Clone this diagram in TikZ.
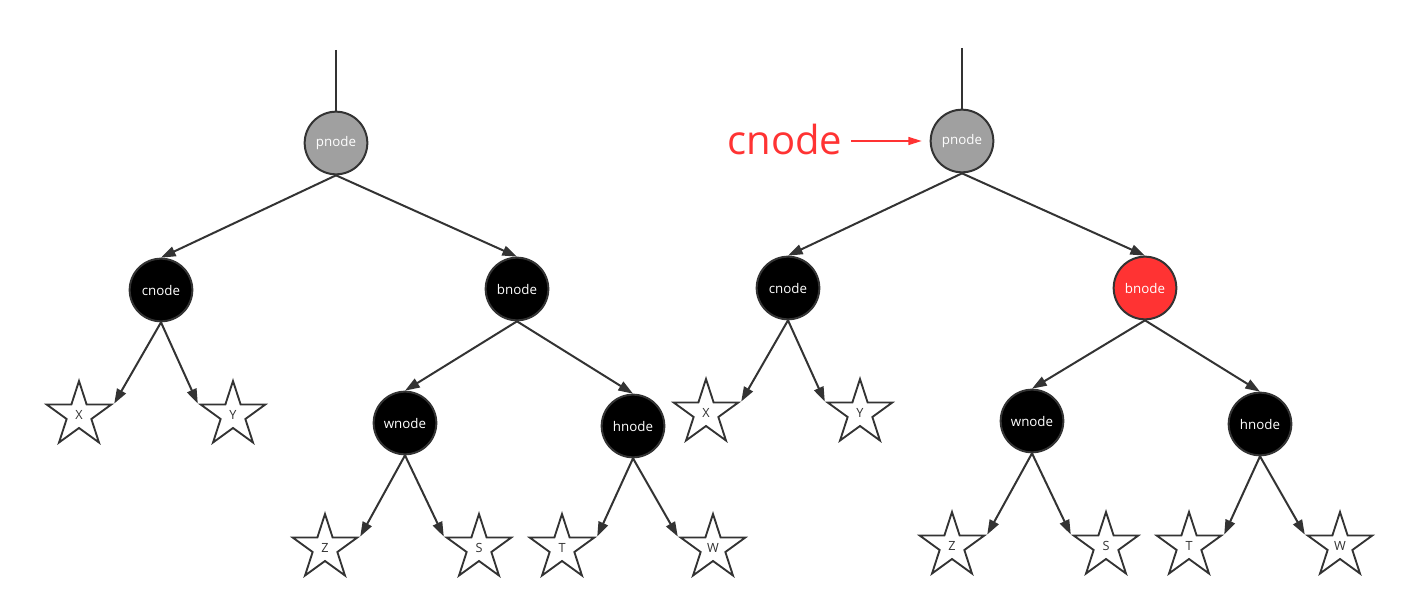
\documentclass[tikz,border=0pt]{standalone}
\usepackage{fontspec}
\setmainfont{Open Sans}
\usetikzlibrary{arrows.meta,shapes.geometric}
\definecolor{ink}{HTML}{333333}
\definecolor{gry}{HTML}{A0A0A0}
\definecolor{hot}{HTML}{FF3333}
\tikzset{
  nd/.style={circle,draw=ink,line width=1.5pt,minimum size=47pt,inner sep=0pt,text=white,font=\fontsize{10}{12}\selectfont},
  gnd/.style={nd,fill=gry},
  knd/.style={nd,fill=black},
  rnd/.style={nd,fill=hot},
  leaf/.style={star,star points=5,star point ratio=2.618,draw=ink,line width=1.4pt,fill=white,minimum size=51pt,inner sep=0pt,text=ink,font=\fontsize{9.5}{11}\selectfont},
  arr/.style={-{Triangle[length=11pt,width=7.5pt]},line width=1.5pt,draw=ink},
  ln/.style={line width=1.6pt,draw=ink},
  hl/.style={-{Triangle[length=10pt,width=6pt]},line width=1.1pt,draw=hot},
  lab/.style={text=hot,inner sep=0pt,font=\fontsize{30}{36}\selectfont},
}

\begin{document}
\begin{tikzpicture}[x=0.75pt,y=-0.75pt]
\useasboundingbox (0,0) rectangle (1403,610);
% left tree
\coordinate (top1) at (336,50);
\node[gnd] (p1) at (336,143) {pnode};
\node[knd] (c1) at (161,290) {cnode};
\node[knd] (b1) at (517,289) {bnode};
\node[knd] (w1) at (405,423) {wnode};
\node[knd] (h1) at (633,426) {hnode};
\node[leaf] (X1) at (79,415) {X};
\node[leaf] (Y1) at (233,415) {Y};
\node[leaf] (Z1) at (325,548) {Z};
\node[leaf] (S1) at (479,548) {S};
\node[leaf] (T1) at (562,548) {T};
\node[leaf] (W1) at (713,548) {W};
\draw[ln] (top1) -- (p1.north);
\draw[arr] (p1.south) -- (c1.north); \draw[arr] (p1.south) -- (b1.north);
\draw[arr] (c1.south) -- (X1.18); \draw[arr] (c1.south) -- (Y1.162);
\draw[arr] (b1.south) -- (w1.north); \draw[arr] (b1.south) -- (h1.north);
\draw[arr] (w1.south) -- (Z1.18); \draw[arr] (w1.south) -- (S1.162);
\draw[arr] (h1.south) -- (T1.18); \draw[arr] (h1.south) -- (W1.162);
% right tree
\coordinate (top2) at (962,48);
\node[gnd] (p2) at (962,141) {pnode};
\node[knd] (c2) at (788,288) {cnode};
\node[rnd] (b2) at (1145,288) {bnode};
\node[knd] (w2) at (1032,421) {wnode};
\node[knd] (h2) at (1260,424) {hnode};
\node[leaf] (X2) at (706,413) {X};
\node[leaf] (Y2) at (860,413) {Y};
\node[leaf] (Z2) at (952,546) {Z};
\node[leaf] (S2) at (1106,546) {S};
\node[leaf] (T2) at (1189,546) {T};
\node[leaf] (W2) at (1340,546) {W};
\draw[ln] (top2) -- (p2.north);
\draw[arr] (p2.south) -- (c2.north); \draw[arr] (p2.south) -- (b2.north);
\draw[arr] (c2.south) -- (X2.18); \draw[arr] (c2.south) -- (Y2.162);
\draw[arr] (b2.south) -- (w2.north); \draw[arr] (b2.south) -- (h2.north);
\draw[arr] (w2.south) -- (Z2.18); \draw[arr] (w2.south) -- (S2.162);
\draw[arr] (h2.south) -- (T2.18); \draw[arr] (h2.south) -- (W2.162);
% marker
\node[lab] (cur) at (785,139) {cnode};
\draw[hl,shorten <=6.5pt,shorten >=6pt] (cur.east |- p2) -- (p2.west);
\end{tikzpicture}
\end{document}
